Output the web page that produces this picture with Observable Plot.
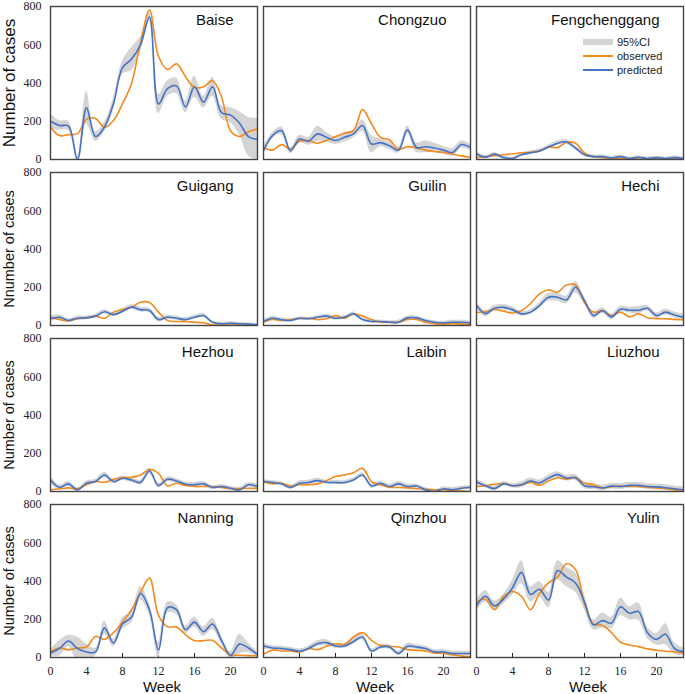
<!DOCTYPE html>
<html><head><meta charset="utf-8">
<script src="https://cdn.jsdelivr.net/npm/d3@7"></script>
<script src="https://cdn.jsdelivr.net/npm/@observablehq/plot@0.6"></script>
<style>
body{margin:0;background:#fff;}
#wrap{position:relative;width:685px;height:694px;}
.legrow{position:absolute;left:583px;display:flex;align-items:center;font-family:"Liberation Sans",Arial,sans-serif;font-size:11px;color:#222;}
.legrow span.sw{display:inline-block;width:30px;margin-right:4px;}
</style></head><body><div id="wrap"></div>
<script>
const cities = ["Baise","Chongzuo","Fengchenggang","Guigang","Guilin","Hechi","Hezhou","Laibin","Liuzhou","Nanning","Qinzhou","Yulin"];
const weeks = [0,1,2,3,4,5,6,7,8,9,10,11,12,13,14,15,16,17,18,19,20,21,22,23];
const xTicks = [0,4,8,12,16,20];
const yTicks = [0,200,400,600,800];
const yLabels = ["Number of cases","Nnumber of cases","Number of cases","Number of cases"];
const yLabelSizes = [17,14.5,14.5,14.5];
const seriesNames = ["95%CI","observed","predicted"];

const obsBaise = [170,125,130,135,210,215,168,204,292,398,610,782,540,470,500,433,377,380,412,328,150,120,145,160];
const predBaise = [200,178,175,0,270,120,170,292,480,525,600,745,290,370,385,275,380,300,380,245,232,190,120,105];
const ciBaise = [40,25,25,15,85,25,25,30,35,60,40,25,50,40,40,30,55,30,50,35,40,60,100,110];

const obsChongzuo = [63,49,78,55,95,99,85,99,120,137,151,261,187,116,102,55,67,60,49,42,37,28,19,11];
const predChongzuo = [46,125,151,46,107,95,134,116,99,116,134,178,81,88,72,49,155,63,67,60,49,37,78,63];
const ciChongzuo = [20,15,20,15,20,20,40,25,20,25,20,30,45,20,20,15,20,25,30,25,20,20,20,15];

const obsFengchenggang = [10,15,20,25,30,35,38,45,65,62,90,85,35,15,10,8,5,5,3,3,3,2,2,2];
const predFengchenggang = [30,12,28,10,5,25,35,45,65,85,92,60,25,15,15,8,15,5,12,5,10,5,10,5];
const ciFengchenggang = [10,8,8,8,8,8,10,10,10,12,12,10,8,8,8,8,8,8,8,8,8,8,8,8];

const obsGuigang = [43,31,24,35,40,49,38,70,83,96,122,120,70,26,21,21,17,14,3,3,3,3,3,3];
const predGuigang = [35,43,26,38,40,49,72,57,75,96,83,78,31,43,38,31,43,52,17,9,12,9,7,3];
const ciGuigang = [15,12,10,10,10,10,12,10,12,12,12,12,12,10,10,10,10,12,8,8,8,8,8,8];

const obsGuilin = [17,31,26,31,35,38,31,35,52,38,61,49,31,17,17,17,31,31,17,10,7,10,7,7];
const predGuilin = [21,38,30,26,38,35,43,49,38,43,61,31,21,21,17,17,40,40,26,17,14,17,17,14];
const ciGuilin = [10,10,10,8,8,8,8,10,10,8,10,8,8,8,8,10,10,10,8,8,8,10,10,8];

const obsHechi = [68,72,84,75,65,78,115,165,186,174,212,212,120,70,78,52,70,45,61,40,36,35,32,30];
const predHechi = [105,62,90,95,83,61,70,104,148,148,134,200,130,52,78,45,85,80,80,90,52,70,55,43];
const ciHechi = [20,15,15,15,15,12,12,15,20,20,20,30,20,15,15,15,15,15,20,15,15,15,15,15];

const obsHezhou = [9,14,19,14,35,52,48,64,73,74,86,115,95,30,43,31,26,26,26,21,16,16,17,16];
const predHezhou = [60,22,40,9,43,52,86,52,69,60,47,107,31,64,55,38,35,40,21,26,17,9,35,26];
const ciHezhou = [20,12,12,10,12,12,15,12,12,12,12,15,12,12,12,12,12,12,10,10,10,10,12,12];

const obsLaibin = [50,40,43,29,35,35,40,57,78,86,98,121,52,35,22,21,19,16,12,9,9,5,2,0];
const predLaibin = [52,47,40,21,43,47,57,48,47,47,60,86,29,43,26,40,26,29,9,0,14,9,17,21];
const ciLaibin = [10,10,10,10,12,12,12,10,10,10,10,12,12,12,12,12,12,10,10,10,10,10,10,10];

const obsLiuzhou = [26,30,38,42,30,35,47,32,55,72,64,74,45,35,20,25,28,27,26,22,18,15,10,4];
const predLiuzhou = [50,30,15,40,30,35,55,45,70,88,70,72,30,25,18,28,26,32,32,26,24,20,14,9];
const ciLiuzhou = [15,12,12,12,12,15,15,15,15,15,15,15,15,15,15,15,15,15,15,15,15,15,15,15];

const obsNanning = [30,50,40,50,55,110,95,130,185,250,340,415,220,160,160,120,88,88,90,50,15,12,10,8];
const predNanning = [24,47,86,47,29,29,155,76,176,210,335,250,40,260,250,145,185,135,175,90,10,70,50,15];
const ciNanning = [15,40,30,60,40,20,35,20,30,30,35,30,40,30,25,20,25,25,30,20,20,50,25,15];

const obsQinzhou = [17,38,34,34,29,47,41,59,72,69,107,130,90,64,59,55,41,38,34,24,21,14,7,3];
const predQinzhou = [60,50,47,41,33,47,72,78,60,60,84,107,34,55,55,21,59,55,47,29,29,21,21,21];
const ciQinzhou = [15,12,12,12,12,12,15,15,12,12,15,15,12,12,12,12,15,12,12,12,12,12,12,12];

const obsYulin = [290,305,250,320,345,320,250,335,390,420,490,460,280,175,168,130,80,65,57,45,38,33,30,24];
const predYulin = [270,320,270,305,365,445,330,357,300,455,420,390,290,170,193,180,265,231,240,130,95,122,47,30];
const ciYulin = [30,30,25,25,40,60,40,40,40,50,50,50,40,25,40,30,45,35,45,30,30,55,30,20];

const observedAll = [obsBaise,obsChongzuo,obsFengchenggang,obsGuigang,obsGuilin,obsHechi,obsHezhou,obsLaibin,obsLiuzhou,obsNanning,obsQinzhou,obsYulin];
const predictedAll = [predBaise,predChongzuo,predFengchenggang,predGuigang,predGuilin,predHechi,predHezhou,predLaibin,predLiuzhou,predNanning,predQinzhou,predYulin];
const ciAll = [ciBaise,ciChongzuo,ciFengchenggang,ciGuigang,ciGuilin,ciHechi,ciHezhou,ciLaibin,ciLiuzhou,ciNanning,ciQinzhou,ciYulin];

const ORANGE = "#F28A1E", BLUE = "#4472C4", GREY = "#d4d4d4";

const rows = [];
cities.forEach((c, i) => {
  weeks.forEach((w, j) => {
    rows.push({city: c, col: i % 3, row: Math.floor(i / 3), week: w,
      obs: observedAll[i][j], pred: predictedAll[i][j],
      lo: predictedAll[i][j] - ciAll[i][j], hi: predictedAll[i][j] + ciAll[i][j]});
  });
});
const panels = cities.map((c, i) => ({city: c, col: i % 3, row: Math.floor(i / 3)}));
const yLab = yLabels.map((t, r) => ({text: t, row: r, col: 0, size: yLabelSizes[r]}));
const weekLab = [0,1,2].map(c => ({col: c, row: 3, text: "Week"}));

const curve = "catmull-rom";
const chart = Plot.plot({
  width: 685, height: 694,
  marginLeft: 50, marginRight: 1, marginTop: 6, marginBottom: 37,
  style: {fontFamily: "Liberation Serif", fontSize: "12px", color: "#222", background: "#fff"},
  fx: {domain: [0,1,2], paddingInner: 0.026, paddingOuter: 0, axis: null},
  fy: {domain: [0,1,2,3], paddingInner: 0.08, paddingOuter: 0, axis: null},
  x: {domain: [0,23], ticks: xTicks, tickSize: -4, tickPadding: 13, label: null},
  y: {domain: [0,800], ticks: yTicks, tickSize: 0, tickPadding: 9, label: null},
  marks: [
    Plot.areaY(rows, {x: "week", y1: "lo", y2: "hi", fx: "col", fy: "row", z: "city", fill: GREY, curve, clip: true}),
    Plot.lineY(rows, {x: "week", y: "obs", fx: "col", fy: "row", z: "city", stroke: ORANGE, strokeWidth: 1.6, curve, clip: true}),
    Plot.lineY(rows, {x: "week", y: "pred", fx: "col", fy: "row", z: "city", stroke: BLUE, strokeWidth: 1.6, curve, clip: true}),
    Plot.frame({stroke: "#444", strokeWidth: 1.4}),
    Plot.text(panels, {fx: "col", fy: "row", text: "city", frameAnchor: "top-right", textAnchor: "end", lineAnchor: "middle", dx: -24, dy: 14, fontSize: 15, fontFamily: "Liberation Sans", fill: "#111"}),
    Plot.text(yLab, {fx: "col", fy: "row", text: "text", frameAnchor: "left", textAnchor: "middle", lineAnchor: "middle", rotate: -90, dx: -41, fontSize: "size", fontFamily: "Liberation Sans", fill: "#111"}),
    Plot.text(weekLab, {fx: "col", fy: "row", text: "text", frameAnchor: "bottom", lineAnchor: "middle", dx: 8, dy: 30, fontSize: 15, fontFamily: "Liberation Sans", fill: "#111"})
  ]
});
const wrap = document.getElementById("wrap");
wrap.appendChild(chart);

// legend (in the Fengchenggang panel)
const legTops = [36, 50, 64];
const legSw = [
  `<span class="sw" style="height:6px;background:${GREY}"></span>`,
  `<span class="sw" style="height:2px;background:${ORANGE}"></span>`,
  `<span class="sw" style="height:2px;background:${BLUE}"></span>`
];
seriesNames.forEach((n, i) => {
  const d = document.createElement("div");
  d.className = "legrow";
  d.style.top = legTops[i] + "px";
  d.style.height = "12px";
  d.innerHTML = legSw[i] + `<span>${n}</span>`;
  wrap.appendChild(d);
});
</script></body></html>
